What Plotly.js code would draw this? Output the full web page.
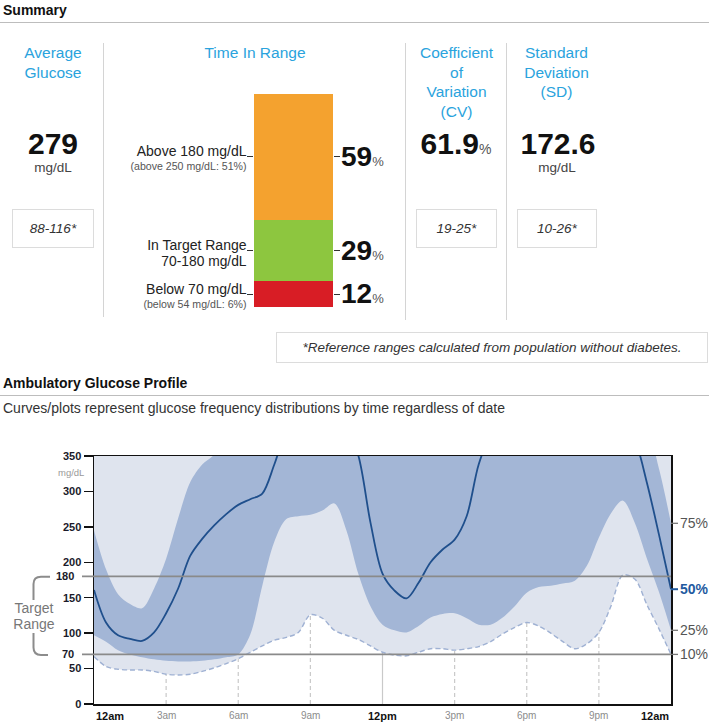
<!DOCTYPE html>
<html><head><meta charset="utf-8">
<script src="https://cdn.plot.ly/plotly-3.0.1.min.js"></script>
<style>
html,body{margin:0;padding:0;background:#fff;}
body{width:711px;height:725px;position:relative;overflow:hidden;font-family:"Liberation Sans",Arial,Helvetica,sans-serif;color:#1a1a1a;}
.a{position:absolute;white-space:nowrap;}
.box{position:absolute;border:1.5px solid #dcdcdc;box-sizing:border-box;display:flex;align-items:center;justify-content:center;font-style:italic;color:#333;}
.hr{position:absolute;left:0;width:709px;height:0;border-top:1.5px solid #bdbdbd;}
.vr{position:absolute;width:0;border-left:1.5px solid #d4d4d4;}
#tir{position:absolute;left:240px;top:80px;width:110px;height:240px;}
#agp{position:absolute;left:0;top:440px;width:711px;height:285px;}
</style></head><body>
<div id="tir"></div>
<div id="agp"></div>
<svg style="position:absolute;left:0;top:0;" width="100" height="725">
<path d="M 50 576.7 L 41 576.7 Q 33.5 576.7 33.5 584 L 33.5 600" stroke="#8c8c8c" stroke-width="2" fill="none"/>
<path d="M 33.5 633 L 33.5 647.5 Q 33.5 655 41 655 L 48 655" stroke="#8c8c8c" stroke-width="2" fill="none"/>
</svg>
<script>
// ---------- data ----------
const summaryHeadings = ['Average<br>Glucose', 'Time In Range', 'Coefficient<br>of<br>Variation<br>(CV)', 'Standard<br>Deviation<br>(SD)'];
const avgGlucose = 279;
const cvPercent = 61.9;
const sdValue = 172.6;
const refRanges = ['88-116*', '19-25*', '10-26*'];
const refNote = '*Reference ranges calculated from population without diabetes.';

// Time in range, bottom to top
const tirCategories = ['Below 70 mg/dL', 'In Target Range', 'Above 180 mg/dL'];
const tirSubLabels = ['(below 54 mg/dL: 6%)', '70-180 mg/dL', '(above 250 mg/dL: 51%)'];
const tirValues = [12, 29, 59];

// Ambulatory glucose profile (mg/dL by hour of day)
const hours = [0,0.5,1,1.5,2,2.5,3,3.5,4,4.5,5,5.5,6,6.5,7,7.5,8,8.5,9,9.5,10,10.5,11,11.5,12,12.5,13,13.5,14,14.5,15,15.5,16,16.5,17,17.5,18,18.5,19,19.5,20,20.5,21,21.5,22,22.5,23,23.5,24];
const p90 = [385,380,378,380,385,392,400,410,420,428,435,440,445,450,455,460,462,465,468,470,470,468,465,462,458,455,452,452,455,458,462,465,468,470,472,472,470,468,465,462,458,455,450,445,440,430,418,405,392];
const p75 = [245,190,155,141,135,163,205,262,313,338,352,378,395,400,410,420,425,430,430,432,435,430,425,420,410,400,395,400,405,410,415,420,425,430,430,432,435,435,432,430,428,425,420,415,410,400,388,332,255];
const p50 = [161,115,97,92,89,101,128,163,209,233,252,268,281,289,297,338,385,405,415,418,412,392,350,256,184,160,149,171,200,218,232,265,338,380,400,410,415,418,420,420,418,415,410,405,395,372,312,239,162];
const p25 = [97,88,76,70,66,63,61,60,60,61,63,66,70,98,167,229,261,265,267,273,283,245,183,138,112,104,101,110,122,127,128,121,112,112,122,138,157,165,167,170,174,195,235,269,287,255,205,158,104];
const p10 = [67,53,49,48,48,46,42,41,42,46,51,57,64,73,82,90,94,101,126,121,104,97,91,82,73,69,68,73,78,78,76,78,81,88,99,108,115,110,100,88,78,85,101,138,182,176,140,106,70];
const percentileLabels = ['75%', '50%', '25%', '10%'];
const yTickVals = [0, 50, 100, 150, 200, 250, 300, 350];
const targetLines = [70, 180];
const xTickVals = [0, 3, 6, 9, 12, 15, 18, 21, 24];
const xTickLabels = ['12am', '3am', '6am', '9am', '12pm', '3pm', '6pm', '9pm', '12am'];

// ---------- text helpers ----------
const BLUE = '#2aa3dd';
function txt(html, o) {
  const d = document.createElement('div');
  d.className = 'a';
  d.innerHTML = html;
  const lh = o.lh || o.fs;
  d.style.fontSize = o.fs + 'px';
  d.style.lineHeight = lh + 'px';
  d.style.top = (o.cy - lh / 2) + 'px';
  if (o.align === 'center') { d.style.left = (o.x - 200) + 'px'; d.style.width = '400px'; d.style.textAlign = 'center'; }
  else if (o.align === 'right') { d.style.right = (711 - o.x) + 'px'; d.style.textAlign = 'right'; }
  else { d.style.left = o.x + 'px'; }
  if (o.color) d.style.color = o.color;
  if (o.bold) d.style.fontWeight = 'bold';
  if (o.italic) d.style.fontStyle = 'italic';
  document.body.appendChild(d);
  return d;
}
function box(text, l, t, w, h, fs) {
  const d = document.createElement('div');
  d.className = 'box';
  d.style.left = l + 'px'; d.style.top = t + 'px'; d.style.width = w + 'px'; d.style.height = h + 'px';
  d.style.fontSize = fs + 'px';
  d.textContent = text;
  document.body.appendChild(d);
}
function line(cls, st) {
  const d = document.createElement('div'); d.className = cls;
  Object.assign(d.style, st); document.body.appendChild(d);
}

// ---------- summary section ----------
txt('Summary', {x: 3, cy: 10, fs: 14, bold: true, color: '#111'});
line('hr', {top: '22px'});
line('vr', {left: '103px', top: '43px', height: '274px'});
line('vr', {left: '405px', top: '43px', height: '277px'});
line('vr', {left: '506px', top: '43px', height: '277px'});

const headX = [53, 255, 456.5, 556.5];
summaryHeadings.forEach((h, i) => txt(h, {x: headX[i], cy: 53, fs: 15.5, lh: 19.4, align: 'center', color: BLUE}));

txt('<b>' + avgGlucose + '</b>', {x: 53, cy: 143, fs: 30, lh: 25, align: 'center', color: '#111'});
txt('mg/dL', {x: 53, cy: 168, fs: 13.5, lh: 14, align: 'center', color: '#444'});
txt('<b style="font-size:30px;color:#111">' + cvPercent.toFixed(1) + '</b><span style="font-size:14px;color:#555">%</span>', {x: 456, cy: 143, fs: 30, lh: 25, align: 'center'});
txt('<b>' + sdValue.toFixed(1) + '</b>', {x: 558, cy: 143, fs: 30, lh: 25, align: 'center', color: '#111'});
txt('mg/dL', {x: 557, cy: 168, fs: 13.5, lh: 14, align: 'center', color: '#444'});

box(refRanges[0], 12, 209, 82, 39, 13.5);
box(refRanges[1], 416, 209, 81, 39, 13.5);
box(refRanges[2], 517, 209, 80, 39, 13.5);
box(refNote, 276, 332, 432, 31, 13.5);

// time-in-range labels, positions derived from the bar scale
const barTop = 94, barH = 213;
const total = tirValues.reduce((s, v) => s + v, 0);
let cum = 0;
const mids = tirValues.map(v => { const m = cum + v / 2; cum += v; return m; });
tirValues.forEach((v, i) => {
  const midPx = barTop + barH * (1 - mids[i] / total);
  txt(tirCategories[i], {x: 246.5, cy: midPx - 5, fs: 14, lh: 13, align: 'right', color: '#222'});
  const small = i !== 1;
  txt(tirSubLabels[i], {x: 246.5, cy: midPx + (small ? 9.5 : 11), fs: small ? 10.6 : 13.8, lh: small ? 10 : 13, align: 'right', color: small ? '#555' : '#222'});
  txt('<b style="font-size:28px;color:#111">' + v + '</b><span style="font-size:13px;color:#555">%</span>', {x: 341, cy: midPx, fs: 28, lh: 24});
});

// ---------- AGP headings ----------
txt('Ambulatory Glucose Profile', {x: 3, cy: 383, fs: 14, bold: true, color: '#111'});
line('hr', {top: '395px'});
txt('Curves/plots represent glucose frequency distributions by time regardless of date', {x: 3, cy: 408, fs: 14, color: '#333'});
txt('Target<br>Range', {x: 34, cy: 608, fs: 14, lh: 16, align: 'center', color: '#777'});

const FONT = 'Liberation Sans, Arial, sans-serif';

// ---------- time in range bar ----------
const tirColors = ['#d81d25', '#8dc63f', '#f4a22f'];
Plotly.newPlot('tir', tirValues.map((v, i) => ({
  type: 'bar', x: ['TIR'], y: [v], width: 1, name: tirCategories[i],
  marker: {color: tirColors[i], line: {width: 0}}, hoverinfo: 'skip', showlegend: false
})), {
  width: 110, height: 240, margin: {l: 14, r: 17, t: 14, b: 13},
  barmode: 'stack', bargap: 0,
  paper_bgcolor: 'rgba(0,0,0,0)', plot_bgcolor: 'rgba(0,0,0,0)',
  xaxis: {range: [-0.5, 0.5], visible: false, fixedrange: true},
  yaxis: {range: [0, total], tickvals: mids, ticks: 'outside', ticklen: 6, tickwidth: 1.3, tickcolor: '#333',
          showticklabels: false, showgrid: false, zeroline: false, showline: false, mirror: 'ticks', fixedrange: true}
}, {staticPlot: true, displayModeBar: false});

// ---------- AGP chart ----------
const plotW = 711 - 94 - 40;
const last = hours.length - 1;
const spl = {shape: 'spline', smoothing: 0.9};
const traces = [
  {x: hours, y: p10, mode: 'lines', line: Object.assign({width: 0}, spl), hoverinfo: 'skip'},
  {x: hours, y: p90, mode: 'lines', fill: 'tonexty', fillcolor: '#dfe4ee', line: Object.assign({width: 0}, spl), hoverinfo: 'skip'},
  {x: hours, y: p25, mode: 'lines', line: Object.assign({width: 0}, spl), hoverinfo: 'skip'},
  {x: hours, y: p75, mode: 'lines', fill: 'tonexty', fillcolor: '#a3b6d6', line: Object.assign({width: 0}, spl), hoverinfo: 'skip'},
  {x: hours, y: p50, mode: 'lines', line: Object.assign({width: 1.8, color: '#1f4f8c'}, spl), hoverinfo: 'skip'},
  {x: hours, y: p10, mode: 'lines', line: Object.assign({width: 1.4, color: '#9fb1d3', dash: '5px,3px'}, spl), hoverinfo: 'skip'}
];

const shapes = [];
xTickVals.forEach(v => {
  if (v === 0 || v === 24) return;
  shapes.push({type: 'line', xref: 'x', yref: 'y', x0: v, x1: v, y0: 0, y1: 350, layer: 'below',
    line: {color: '#c9c9c9', width: 1.2, dash: v === 12 ? 'solid' : '4px,3px'}});
});
targetLines.forEach(v => shapes.push({type: 'line', xref: 'paper', yref: 'y', x0: -12 / plotW, x1: 1, y0: v, y1: v,
  layer: 'above', line: {color: '#8a8a8a', width: 1.8}}));
const endVals = [p75[last], p50[last], p25[last], p10[last]];
const endColors = ['#777', '#1f5aa0', '#777', '#777'];
endVals.forEach((v, i) => shapes.push({type: 'line', xref: 'paper', yref: 'y', x0: 1, x1: 1 + 7 / plotW, y0: v, y1: v,
  layer: 'above', line: {color: endColors[i], width: i === 1 ? 2 : 1.3}}));

const annotations = [];
endVals.forEach((v, i) => annotations.push({xref: 'paper', yref: 'y', x: 1 + 7 / plotW, y: v, xanchor: 'left', yanchor: 'middle',
  showarrow: false, text: i === 1 ? '<b>' + percentileLabels[i] + '</b>' : percentileLabels[i],
  font: {family: FONT, size: 14, color: i === 1 ? '#1f5aa0' : '#555'}}));
targetLines.forEach(v => annotations.push({xref: 'paper', yref: 'y', x: -18 / plotW, y: v, xanchor: 'right', yanchor: 'middle',
  showarrow: false, text: '<b>' + v + '</b>', font: {family: FONT, size: 11, color: '#1a1a2a'}}));
annotations.push({xref: 'paper', yref: 'y', x: -8 / plotW, y: 350, yshift: -16, xanchor: 'right', yanchor: 'middle',
  showarrow: false, text: 'mg/dL', font: {family: FONT, size: 9.5, color: '#999'}});
xTickVals.forEach((v, i) => {
  const major = xTickLabels[i].startsWith('12');
  annotations.push({xref: 'x', yref: 'paper', x: v, y: 0, yanchor: 'top', yshift: -4,
    xanchor: i === 0 ? 'left' : (i === xTickVals.length - 1 ? 'right' : 'center'),
    showarrow: false, text: major ? '<b>' + xTickLabels[i] + '</b>' : xTickLabels[i],
    font: {family: FONT, size: major ? 11 : 10, color: major ? '#111' : '#8c8c8c'}});
});

Plotly.newPlot('agp', traces, {
  width: 711, height: 285, margin: {l: 94, r: 40, t: 16, b: 21},
  showlegend: false, font: {family: FONT},
  paper_bgcolor: 'rgba(0,0,0,0)', plot_bgcolor: '#ffffff',
  xaxis: {range: [0, 24], showgrid: false, zeroline: false, showline: true, mirror: true, linecolor: '#111', linewidth: 1.5,
          ticks: '', showticklabels: false, fixedrange: true},
  yaxis: {range: [0, 350], tickvals: yTickVals, ticktext: yTickVals.map(v => '<b>' + v + '</b>'),
          ticks: 'outside', ticklen: 9, tickwidth: 1.5, tickcolor: '#111', showline: true, mirror: true,
          linecolor: '#111', linewidth: 1.5, showgrid: false, zeroline: false,
          tickfont: {family: FONT, size: 11, color: '#1a1a2a'}, fixedrange: true},
  shapes: shapes, annotations: annotations
}, {staticPlot: true, displayModeBar: false});
</script>
</body></html>
